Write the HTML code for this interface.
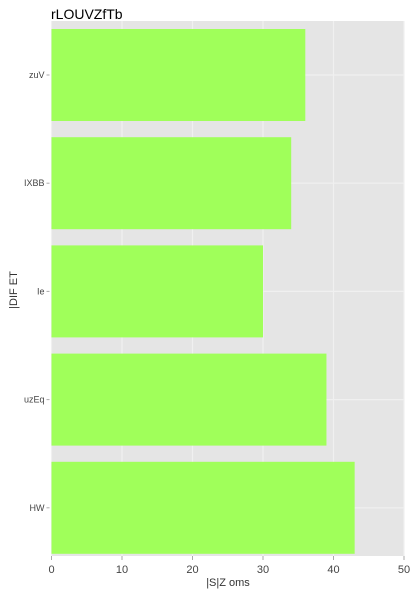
<!DOCTYPE html>
<html><head><meta charset="utf-8"><style>
body{margin:0;background:#fff;font-family:"Liberation Sans",sans-serif;}
svg text{font-family:"Liberation Sans",sans-serif;}
</style></head><body>
<svg id="c" width="420" height="600">
<text x="51" y="19" font-size="14" fill="#000">rLOUVZfTb</text>
<rect x="51" y="21" width="353" height="535" fill="#e5e5e5"/>
<g id="grid"></g><g id="bars"></g><g id="axes"></g>
<text x="228" y="586" font-size="11" fill="#333" text-anchor="middle">|S|Z oms</text>
<text transform="translate(17,290) rotate(-90)" font-size="11" fill="#333" text-anchor="middle">|DIF ET</text>
</svg>
<script>
const categories=["zuV","IXBB","Ie","uzEq","HW"];
const values=[36,34,30,39,43];
const xTicks=[0,10,20,30,40,50];
const NS="http://www.w3.org/2000/svg";
const x0=51.5,x1=404,panelTop=21,panelBot=556;
const xs=v=>x0+(v-0)/(50-0)*(x1-x0);
const step=108.2;
const yc=i=>75+i*step;
const bh=92;
function mk(t,a,p){const e=document.createElementNS(NS,t);for(const k in a)e.setAttribute(k,a[k]);p.appendChild(e);return e;}
const grid=document.getElementById('grid'),bars=document.getElementById('bars'),axes=document.getElementById('axes');
xTicks.forEach(t=>{
const g=mk('line',{x1:xs(t),x2:xs(t),y1:panelTop,y2:panelBot,stroke:'#f0f0f0','stroke-width':1.2},grid);


const tk=mk('line',{x1:xs(t),x2:xs(t),y1:panelBot,y2:panelBot+4,stroke:'#aaa'},axes);


const l=mk('text',{x:xs(t),y:panelBot+17,'font-size':11,fill:'#444','text-anchor':'middle'},axes);
l.textContent=t;


});
categories.forEach((c,i)=>{
const g=mk('line',{x1:x0,x2:x1,y1:yc(i),y2:yc(i),stroke:'#f0f0f0','stroke-width':1.2},grid);


const r=mk('rect',{x:x0,y:yc(i)-bh/2,width:xs(values[i])-x0,height:bh,fill:'#a0ff5a'},bars);


const tk=mk('line',{x1:x0-5,x2:x0-2,y1:yc(i),y2:yc(i),stroke:'#aaa'},axes);


const l=mk('text',{x:x0-7,y:yc(i)+3,'font-size':9,fill:'#444','text-anchor':'end'},axes);
l.textContent=c;


});
</script>
</body></html>
